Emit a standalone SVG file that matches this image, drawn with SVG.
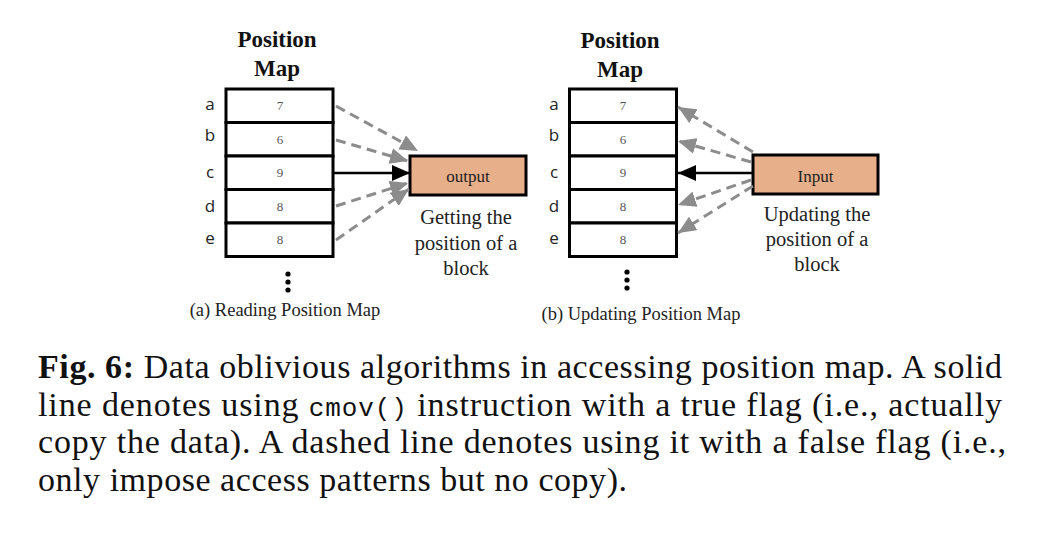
<svg xmlns="http://www.w3.org/2000/svg" width="1056" height="548" viewBox="0 0 1056 548">
<style>
.row{fill:#fff;stroke:#000;stroke-width:3}
.box{fill:#e8b08a;stroke:#000;stroke-width:3}
.num{font-family:"Liberation Serif",serif;font-size:13px;fill:#555;text-anchor:middle}
.lbl{font-family:"Open Sans","Liberation Sans",sans-serif;font-size:17px;fill:#222;text-anchor:middle}
.title{font-family:"Liberation Serif",serif;font-size:23px;font-weight:bold;fill:#111;text-anchor:middle}
.serif{font-family:"Liberation Serif",serif;fill:#222;text-anchor:middle}
.dash{stroke:#8c8c8c;stroke-width:3;stroke-dasharray:10 6;fill:none;marker-end:url(#ag)}
.solid{stroke:#000;stroke-width:2.5;fill:none;marker-end:url(#ab)}
.cap{font-family:"Liberation Serif",serif;font-size:34px;fill:#111}
</style>
<defs>
<marker id="ag" markerUnits="userSpaceOnUse" markerWidth="18" markerHeight="16" refX="18" refY="8" orient="auto"><path d="M0,0 L18,8 L0,16 z" fill="#8c8c8c"/></marker>
<marker id="ab" markerUnits="userSpaceOnUse" markerWidth="18" markerHeight="16" refX="18" refY="8" orient="auto"><path d="M0,0 L18,8 L0,16 z" fill="#000"/></marker>
</defs>

<g id="mapA">
<text class="title" x="277" y="47">Position</text>
<text class="title" x="277" y="76">Map</text>
<rect class="row" x="226" y="89" width="107" height="33.5"/>
<rect class="row" x="226" y="122.5" width="107" height="33.5"/>
<rect class="row" x="226" y="156" width="107" height="33.5"/>
<rect class="row" x="226" y="189.5" width="107" height="33.5"/>
<rect class="row" x="226" y="223" width="107" height="33.5"/>
<text class="num" x="280" y="110">7</text>
<text class="num" x="280" y="144">6</text>
<text class="num" x="280" y="177">9</text>
<text class="num" x="280" y="211">8</text>
<text class="num" x="280" y="244">8</text>
<text class="lbl" x="210" y="110">a</text>
<text class="lbl" x="210" y="141">b</text>
<text class="lbl" x="210" y="178">c</text>
<text class="lbl" x="210" y="212">d</text>
<text class="lbl" x="210" y="244">e</text>
<circle cx="288" cy="274" r="2.6" fill="#000"/>
<circle cx="288" cy="282" r="2.6" fill="#000"/>
<circle cx="288" cy="290" r="2.6" fill="#000"/>
</g>

<g id="output">
<rect class="box" x="410" y="156" width="116" height="39"/>
<text class="serif" x="468" y="182" font-size="17">output</text>
<text class="serif" x="466" y="224" font-size="20.5">Getting the</text>
<text class="serif" x="466" y="250" font-size="20.5">position of a</text>
<text class="serif" x="466" y="275" font-size="20.5">block</text>
</g>

<g id="mapB">
<text class="title" x="620" y="48">Position</text>
<text class="title" x="620" y="77">Map</text>
<rect class="row" x="569.5" y="89" width="107" height="33.5"/>
<rect class="row" x="569.5" y="122.5" width="107" height="33.5"/>
<rect class="row" x="569.5" y="156" width="107" height="33.5"/>
<rect class="row" x="569.5" y="189.5" width="107" height="33.5"/>
<rect class="row" x="569.5" y="223" width="107" height="33.5"/>
<text class="num" x="623" y="110">7</text>
<text class="num" x="623" y="144">6</text>
<text class="num" x="623" y="177">9</text>
<text class="num" x="623" y="211">8</text>
<text class="num" x="623" y="244">8</text>
<text class="lbl" x="554" y="110">a</text>
<text class="lbl" x="554" y="141">b</text>
<text class="lbl" x="554" y="178">c</text>
<text class="lbl" x="554" y="212">d</text>
<text class="lbl" x="554" y="244">e</text>
<circle cx="627" cy="272" r="2.6" fill="#000"/>
<circle cx="627" cy="280" r="2.6" fill="#000"/>
<circle cx="627" cy="288" r="2.6" fill="#000"/>
</g>

<g id="input">
<rect class="box" x="753" y="155" width="125" height="39"/>
<text class="serif" x="815.5" y="182" font-size="17">Input</text>
<text class="serif" x="817" y="221" font-size="20.5">Updating the</text>
<text class="serif" x="817" y="246" font-size="20.5">position of a</text>
<text class="serif" x="817" y="271" font-size="20.5">block</text>
</g>

<g id="connectors">
<line class="dash" x1="336" y1="106" x2="418" y2="151"/>
<line class="dash" x1="336" y1="140" x2="408" y2="161"/>
<line class="solid" x1="333" y1="173" x2="410" y2="173"/>
<line class="dash" x1="336" y1="206" x2="408" y2="183"/>
<line class="dash" x1="336" y1="240" x2="409" y2="189"/>
<line class="dash" x1="753" y1="152" x2="678" y2="107"/>
<line class="dash" x1="751" y1="162" x2="678" y2="141"/>
<line class="solid" x1="753" y1="173" x2="678" y2="173"/>
<line class="dash" x1="751" y1="180" x2="678" y2="205"/>
<line class="dash" x1="753" y1="186" x2="678" y2="233"/>
</g>

<g id="captions">
<text class="serif" x="285" y="316" font-size="18.5">(a) Reading Position Map</text>
<text class="serif" x="641" y="320" font-size="18.5">(b) Updating Position Map</text>
</g>

<g id="figcaption">
<text class="cap" x="38" y="377.5" textLength="964" lengthAdjust="spacing"><tspan font-weight="bold">Fig. 6:</tspan> Data oblivious algorithms in accessing position map. A solid</text>
<text class="cap" x="38" y="415.5" textLength="964" lengthAdjust="spacing">line denotes using <tspan font-family="Liberation Mono,monospace" font-size="26">cmov()</tspan> instruction with a true flag (i.e., actually</text>
<text class="cap" x="38" y="453" textLength="968" lengthAdjust="spacing">copy the data). A dashed line denotes using it with a false flag (i.e.,</text>
<text class="cap" x="38" y="491" textLength="589" lengthAdjust="spacing">only impose access patterns but no copy).</text>
</g>
</svg>
